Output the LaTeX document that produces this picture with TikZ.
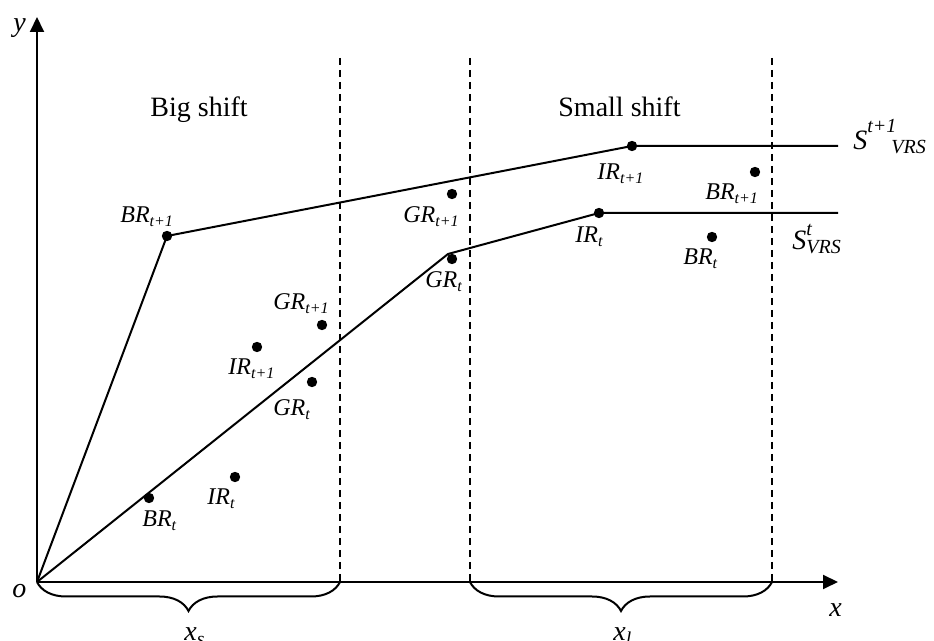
\documentclass[tikz,border=0pt]{standalone}
\usepackage{fontspec}
\setmainfont{Liberation Serif}
\usetikzlibrary{arrows.meta,decorations.pathreplacing}

\newcommand{\idxsize}{\fontsize{10}{10}\selectfont}

\begin{document}
\begin{tikzpicture}[x=0.5pt,y=-0.5pt,
  axis/.style={line width=1pt,-{Triangle[length=7.5pt,width=7pt]}},
  frontier/.style={line width=1pt},
  sep/.style={line width=0.75pt,dash pattern=on 3.5pt off 2.5pt},
  dmu/.style={circle,fill,inner sep=0pt,minimum size=5.2pt},
  lab/.style={font=\fontsize{12}{14}\selectfont\itshape,inner sep=0pt,anchor=base west},
  big/.style={font=\fontsize{14}{16}\selectfont,inner sep=0pt,anchor=base west},
  bigit/.style={font=\fontsize{14}{16}\selectfont\itshape,inner sep=0pt,anchor=base west},
  brc/.style={line width=1pt,decorate,decoration={brace,mirror,amplitude=14.5pt}}]
\useasboundingbox (0,0) rectangle (934,641);

% axes
\coordinate (O) at (37,582);
\coordinate (ytip) at (37,17);
\coordinate (xtip) at (838,582);
\draw[axis] (O) -- (ytip);
\draw[axis] (O) -- (xtip);
\node[bigit] (ylab) at (13,32) {y};
\node[bigit] (xlab) at (829,617) {x};
\node[bigit] (olab) at (12,598) {o};

% region separators
\coordinate (sepAtop) at (340,58);
\coordinate (sepAbot) at (340,582);
\coordinate (sepBtop) at (470,58);
\coordinate (sepBbot) at (470,582);
\coordinate (sepCtop) at (772,58);
\coordinate (sepCbot) at (772,582);
\draw[sep] (sepAtop) -- (sepAbot);
\draw[sep] (sepBtop) -- (sepBbot);
\draw[sep] (sepCtop) -- (sepCbot);

% braces under the axis
\draw[brc] (O) -- (sepAbot);
\draw[brc] (sepBbot) -- (sepCbot);
\node[bigit] (xs) at (184,641) {x\textsubscript{s}};
\node[bigit] (xl) at (613,641) {x\textsubscript{l}};

% region titles
\node[big] (bigshift) at (150,117) {Big shift};
\node[big] (smallshift) at (558,117) {Small shift};

% frontier at t+1
\node[dmu] (BRu) at (167,236) {};
\node[dmu] (IRu) at (632,146) {};
\coordinate (uend) at (838,146);
\draw[frontier] (O) -- (BRu.center) -- (IRu.center) -- (uend);

% frontier at t
\coordinate (kink) at (448,254);
\node[dmu] (IRl) at (599,213) {};
\coordinate (lend) at (838,213);
\draw[frontier] (O) -- (kink) -- (IRl.center) -- (lend);

% remaining units
\node[dmu] (GRa) at (322,325) {};
\node[dmu] (IRa) at (257,347) {};
\node[dmu] (GRb) at (312,382) {};
\node[dmu] (BRb) at (149,498) {};
\node[dmu] (IRb) at (235,477) {};
\node[dmu] (GRc) at (452,194) {};
\node[dmu] (GRd) at (452,259) {};
\node[dmu] (BRc) at (755,172) {};
\node[dmu] (BRd) at (712,237) {};

% unit labels
\node[lab] (lBRu) at (120,223) {BR\textsubscript{t+1}};
\node[lab] (lIRu) at (597,180) {IR\textsubscript{t+1}};
\node[lab] (lIRl) at (575,243) {IR\textsubscript{t}};
\node[lab] (lGRa) at (273,310) {GR\textsubscript{t+1}};
\node[lab] (lIRa) at (228,375) {IR\textsubscript{t+1}};
\node[lab] (lGRb) at (273,416) {GR\textsubscript{t}};
\node[lab] (lBRb) at (142,527) {BR\textsubscript{t}};
\node[lab] (lIRb) at (207,505) {IR\textsubscript{t}};
\node[lab] (lGRc) at (403,223) {GR\textsubscript{t+1}};
\node[lab] (lGRd) at (425,288) {GR\textsubscript{t}};
\node[lab] (lBRc) at (705,200) {BR\textsubscript{t+1}};
\node[lab] (lBRd) at (683,265) {BR\textsubscript{t}};

% frontier names
\node[bigit] (Su) at (853,150)
  {S\raisebox{8.5pt}{\idxsize t+1}\kern-2.5pt\raisebox{-2pt}{\idxsize VRS}};
\node[bigit] (Sl) at (792,250)
  {S\rlap{\raisebox{7pt}{\idxsize t}}\raisebox{-2pt}{\idxsize VRS}};
\end{tikzpicture}
\end{document}
